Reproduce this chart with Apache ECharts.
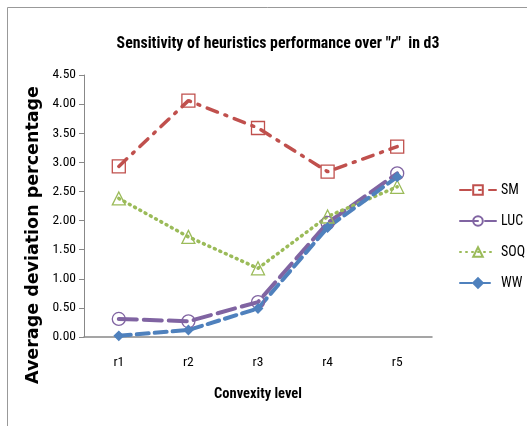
<!DOCTYPE html>
<html>
<head>
<meta charset="utf-8">
<script src="https://cdn.jsdelivr.net/npm/echarts@6/dist/echarts.min.js"></script>
<style>
  html, body { margin: 0; padding: 0; background: #fff; }
  #chart { width: 527px; height: 426px; }
</style>
</head>
<body>
<div id="chart"></div>
<script>
// Convexity levels on the x axis
const categories = ['r1', 'r2', 'r3', 'r4', 'r5'];

// Average deviation percentage per heuristic
const smValues  = [2.93, 4.06, 3.59, 2.84, 3.27];
const lucValues = [0.31, 0.27, 0.60, 1.96, 2.81];
const soqValues = [2.38, 1.72, 1.18, 2.07, 2.58];
const wwValues  = [0.02, 0.12, 0.49, 1.88, 2.75];

const FONT = '"Liberation Sans Narrow", "Roboto Condensed", Roboto, "Liberation Sans", sans-serif';

const chart = echarts.init(document.getElementById('chart'));

function series(name, data, color, lineType, width, symbol, symbolSize, filled) {
  return {
    name: name,
    type: 'line',
    data: data,
    symbol: symbol,
    symbolSize: symbolSize,
    showAllSymbol: true,
    lineStyle: { color: color, width: width, type: lineType, cap: 'round' },
    itemStyle: {
      color: filled ? color : 'rgba(255,255,255,0)',
      borderColor: color,
      borderWidth: 1.3
    },
    emphasis: { disabled: true }
  };
}

const titleStyle = { fontFamily: FONT, fontSize: 15.8, fontWeight: 'bold', color: '#000' };

chart.setOption({
  animation: false,
  backgroundColor: '#fff',
  title: {
    text: '{a|Sensitivity of heuristics performance over "}{i|r}{a|"  in d3}',
    left: 273,
    textAlign: 'center',
    top: 31,
    textStyle: {
      rich: {
        a: titleStyle,
        i: Object.assign({}, titleStyle, { fontStyle: 'italic' })
      }
    }
  },
  graphic: [
    {
      type: 'rect',
      shape: { x: 7.5, y: 7.5, width: 560, height: 460 },
      style: { fill: 'none', stroke: '#999', lineWidth: 1 },
      silent: true
    },
    {
      // vertical axis title, set a little below the plot's centre
      type: 'text',
      x: 33,
      y: 235,
      rotation: Math.PI / 2,
      style: {
        text: 'Average deviation percentage',
        fontFamily: '"DejaVu Sans", Verdana, sans-serif',
        fontSize: 17.5,
        fontWeight: 'bold',
        fill: '#000',
        align: 'center',
        verticalAlign: 'middle'
      },
      silent: true
    }
  ],
  legend: {
    orient: 'vertical',
    left: 454,
    top: 178,
    itemGap: 17,
    itemWidth: 36,
    itemHeight: 12,
    textStyle: { fontFamily: FONT, fontSize: 14, color: '#000' },
    data: ['SM', 'LUC', 'SOQ', 'WW']
  },
  grid: { left: 84, right: 95, top: 75, bottom: 89, containLabel: false },
  xAxis: {
    type: 'category',
    data: categories,
    boundaryGap: true,
    name: 'Convexity level',
    nameLocation: 'middle',
    nameGap: 50,
    nameTextStyle: { fontFamily: FONT, fontSize: 14.5, fontWeight: 'bold', color: '#000' },
    axisLine: { lineStyle: { color: '#888', width: 1.5 } },
    axisTick: { show: false },
    axisLabel: { fontFamily: FONT, fontSize: 13.5, color: '#000', margin: 19 }
  },
  yAxis: {
    type: 'value',
    min: 0,
    max: 4.5,
    interval: 0.5,
    axisLine: { show: true, lineStyle: { color: '#888', width: 1 } },
    axisTick: { show: true, length: 5, lineStyle: { color: '#888' } },
    splitLine: { show: false },
    axisLabel: {
      fontFamily: FONT, fontSize: 13.5, color: '#000', margin: 8,
      formatter: v => v.toFixed(2)
    }
  },
  series: [
    series('SM',  smValues,  '#C0504D', [11, 8, 2, 8], 3.5, 'rect', 13, false),
    series('LUC', lucValues, '#8064A2', [18, 7], 4, 'circle', 13, false),
    series('SOQ', soqValues, '#9BBB59', [1, 5], 3.5, 'triangle', 13, false),
    series('WW',  wwValues,  '#4F81BD', [12, 6], 4, 'diamond', 9, true)
  ]
});
</script>
</body>
</html>
